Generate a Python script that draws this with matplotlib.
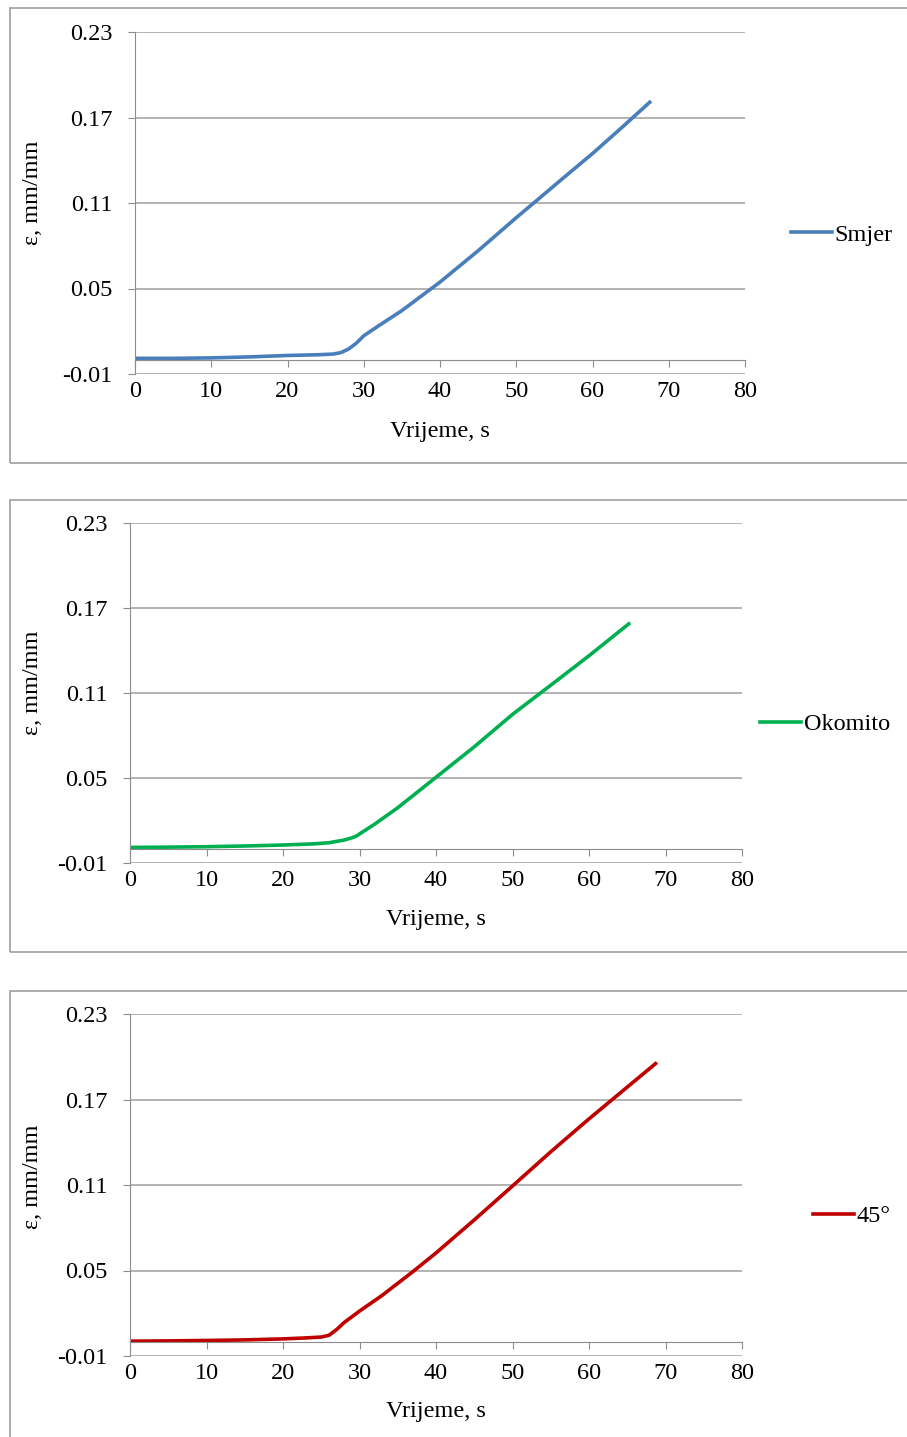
import matplotlib
matplotlib.use('Agg')
import matplotlib.pyplot as plt
from matplotlib.patches import Rectangle

# Strain vs time, three gauge directions
smjer_t = [0, 5, 10, 15, 20, 24, 26, 27, 28, 29, 30, 32, 35, 40, 45, 50, 53, 56, 60, 64, 67.5]
smjer_eps = [0.001, 0.001, 0.0013, 0.002, 0.003, 0.0035, 0.004, 0.005, 0.0075, 0.0115, 0.0168,
             0.024, 0.0345, 0.0545, 0.0765, 0.0997, 0.1132, 0.1268, 0.1447, 0.1637, 0.1807]

okomito_t = [0, 5, 10, 15, 20, 24, 26, 28, 29, 29.6, 30, 32, 35, 40, 45, 50, 55, 60, 65.2]
okomito_eps = [0.001, 0.0012, 0.0015, 0.002, 0.0027, 0.0035, 0.0043, 0.0062, 0.0078, 0.009, 0.0105,
               0.0175, 0.029, 0.0505, 0.072, 0.0949, 0.1155, 0.1363, 0.1588]

deg45_t = [0, 5, 10, 15, 20, 23, 25, 26, 27, 28, 29, 30, 33, 37, 40, 45, 50, 55, 60, 65, 68.7]
deg45_eps = [0.0004, 0.0006, 0.0009, 0.0013, 0.002, 0.0027, 0.0033, 0.0045, 0.0085, 0.0135, 0.0175,
             0.0215, 0.0327, 0.0493, 0.0623, 0.0855, 0.1093, 0.1333, 0.1564, 0.1787, 0.1952]

series_names = ['Smjer', 'Okomito', '45°']
series_t = [smjer_t, okomito_t, deg45_t]
series_eps = [smjer_eps, okomito_eps, deg45_eps]

x_ticks = [0, 10, 20, 30, 40, 50, 60, 70, 80]
y_ticks = [-0.01, 0.05, 0.11, 0.17, 0.23]
y_tick_labels = ['-0.01', '0.05', '0.11', '0.17', '0.23']
x_label = 'Vrijeme, s'
y_label = 'ε, mm/mm'

W, H = 907, 1437
FS = 17.5
plt.rcParams['font.family'] = ['Liberation Serif', 'DejaVu Serif']

colors = ['#4a7ebb', '#00b050', '#c00000']
# pixel layouts: axes box (x0, y0, x1, y1), chart frame, legend anchor, label offsets
axes_px = [(135, 32, 745, 374), (130, 523, 742, 863), (130, 1014, 742, 1356)]
frame_px = [(10, 8, 920, 463), (10, 500, 920, 952), (10, 991, 920, 1460)]
legend_px = [(791, 235), (760, 724), (813, 1216)]
ylabel_y = [0.53, 0.53, 0.523]
xlabel_y = [-0.167, -0.165, -0.161]

fig = plt.figure(figsize=(W / 100, H / 100), dpi=100)

for i in range(3):
    x0, y0, x1, y1 = axes_px[i]
    ax = fig.add_axes([x0 / W, 1 - y1 / H, (x1 - x0) / W, (y1 - y0) / H])
    ax.plot(series_t[i], series_eps[i], color=colors[i], lw=2.6, label=series_names[i])
    ax.set_xlim(0, 80)
    ax.set_ylim(-0.01, 0.23)
    ax.set_xticks(x_ticks)
    ax.set_xticklabels([str(v) for v in x_ticks])
    ax.set_yticks(y_ticks)
    ax.set_yticklabels(y_tick_labels)
    ax.grid(axis='y', color='#a6a6a6', lw=1.2)
    ax.set_axisbelow(True)
    for s in ['top', 'right']:
        ax.spines[s].set_visible(False)
    ax.spines['bottom'].set_position(('data', 0))
    ax.spines['bottom'].set_color('#8c8c8c')
    ax.spines['left'].set_color('#8c8c8c')
    ax.tick_params(axis='x', direction='out', length=5, color='#8c8c8c', pad=10, labelsize=FS)
    ax.tick_params(axis='y', direction='out', length=5, color='#8c8c8c', pad=11, labelsize=FS)
    ax.set_ylabel(y_label, fontsize=FS, va='center')
    ax.yaxis.set_label_coords((33 - x0) / (x1 - x0), ylabel_y[i])
    ax.set_xlabel(x_label, fontsize=FS, va='center')
    ax.xaxis.set_label_coords(0.5, xlabel_y[i])

    lx, ly = legend_px[i]
    ax.legend(loc='center left', bbox_to_anchor=(lx / W, 1 - ly / H), bbox_transform=fig.transFigure,
              frameon=False, handlelength=1.7, handletextpad=0.1, borderpad=0, borderaxespad=0,
              fontsize=FS)

    fx0, fy0, fx1, fy1 = frame_px[i]
    fig.add_artist(Rectangle((fx0 / W, 1 - fy1 / H), (fx1 - fx0) / W, (fy1 - fy0) / H,
                             transform=fig.transFigure, fill=False, ec='#a6a6a6', lw=1.3))

fig.savefig('out.png', dpi=100)
